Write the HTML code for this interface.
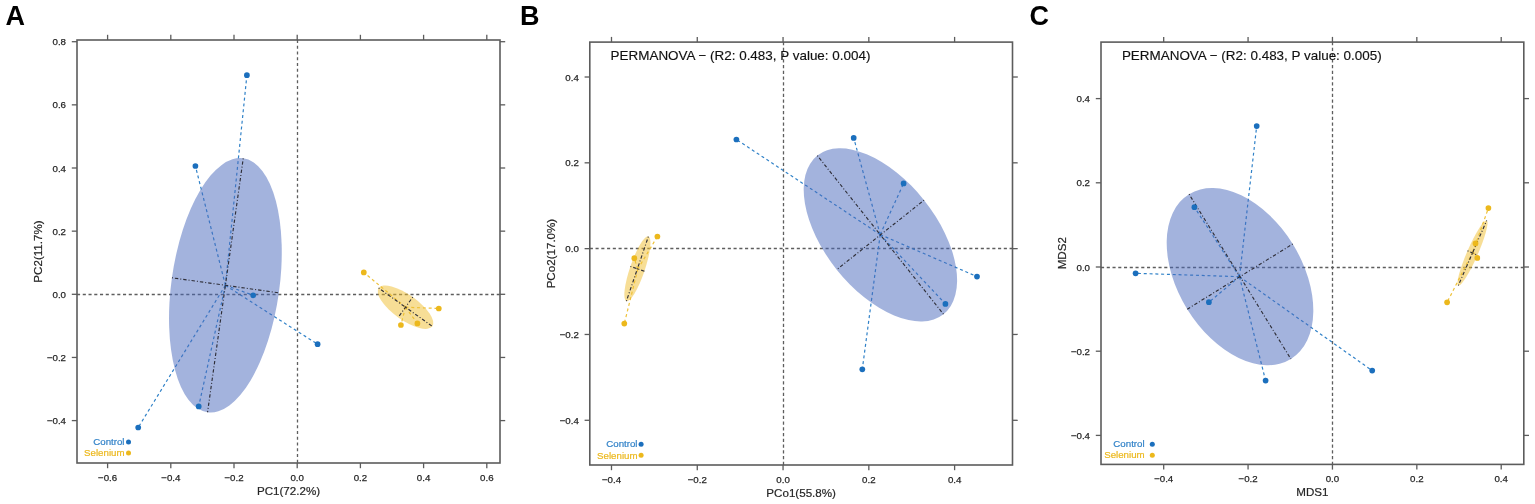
<!DOCTYPE html>
<html><head><meta charset="utf-8"><style>
html,body{margin:0;padding:0;background:#fff;}
svg{display:block;}
text{font-family:"Liberation Sans",Arial,sans-serif;}
.tk{font-size:9.7px;fill:#262626;stroke:#262626;stroke-width:0.25px;}
.at{font-size:11.6px;fill:#262626;stroke:#262626;stroke-width:0.2px;}
.lg{font-size:9.7px;stroke-width:0.2px;}
.pm{font-size:13.45px;fill:#111;stroke:#111;stroke-width:0.15px;}
.pl{font-size:27px;font-weight:bold;fill:#000;}
</style></head><body>
<svg width="1535" height="504" viewBox="0 0 1535 504">
<rect width="1535" height="504" fill="#fff"/>
<line x1="297.50" y1="40.00" x2="297.50" y2="463.00" stroke="#5e5e5e" stroke-width="1.3" stroke-dasharray="3.1,2.65"/>
<line x1="77.00" y1="294.50" x2="500.00" y2="294.50" stroke="#5e5e5e" stroke-width="1.3" stroke-dasharray="3.1,2.65"/>
<line x1="225.4" y1="285.3" x2="246.9" y2="75.2" stroke="#3182c8" stroke-width="1.2" stroke-dasharray="3,2.8"/>
<line x1="225.4" y1="285.3" x2="195.4" y2="166" stroke="#3182c8" stroke-width="1.2" stroke-dasharray="3,2.8"/>
<line x1="225.4" y1="285.3" x2="253.2" y2="295.3" stroke="#3182c8" stroke-width="1.2" stroke-dasharray="3,2.8"/>
<line x1="225.4" y1="285.3" x2="198.7" y2="406.4" stroke="#3182c8" stroke-width="1.2" stroke-dasharray="3,2.8"/>
<line x1="225.4" y1="285.3" x2="138.2" y2="427.5" stroke="#3182c8" stroke-width="1.2" stroke-dasharray="3,2.8"/>
<line x1="225.4" y1="285.3" x2="317.6" y2="344.2" stroke="#3182c8" stroke-width="1.2" stroke-dasharray="3,2.8"/>
<line x1="405.5" y1="307.2" x2="363.8" y2="272.4" stroke="#eec23a" stroke-width="1.2" stroke-dasharray="3,2.8"/>
<line x1="405.5" y1="307.2" x2="438.8" y2="308.5" stroke="#eec23a" stroke-width="1.2" stroke-dasharray="3,2.8"/>
<line x1="405.5" y1="307.2" x2="400.9" y2="325" stroke="#eec23a" stroke-width="1.2" stroke-dasharray="3,2.8"/>
<line x1="405.5" y1="307.2" x2="417.4" y2="323.4" stroke="#eec23a" stroke-width="1.2" stroke-dasharray="3,2.8"/>
<ellipse cx="225.4" cy="285.3" rx="54" ry="128.2" transform="rotate(8 225.4 285.3)" fill="#4768bb" fill-opacity="0.5"/>
<ellipse cx="405.5" cy="307.2" rx="33" ry="12.5" transform="rotate(35.5 405.5 307.2)" fill="#f0be2d" fill-opacity="0.5"/>
<line x1="171.93" y1="277.78" x2="278.87" y2="292.82" stroke="#2e2e38" stroke-width="1.15" stroke-dasharray="1,2,3.4,2"/>
<line x1="243.24" y1="158.35" x2="207.56" y2="412.25" stroke="#2e2e38" stroke-width="1.15" stroke-dasharray="1,2,3.4,2"/>
<line x1="378.63" y1="288.04" x2="432.37" y2="326.36" stroke="#2e2e38" stroke-width="1.15" stroke-dasharray="1,2,3.4,2"/>
<line x1="412.76" y1="297.02" x2="398.24" y2="317.38" stroke="#2e2e38" stroke-width="1.15" stroke-dasharray="1,2,3.4,2"/>
<circle cx="246.9" cy="75.2" r="2.85" fill="#1b6fbd"/>
<circle cx="195.4" cy="166" r="2.85" fill="#1b6fbd"/>
<circle cx="253.2" cy="295.3" r="2.85" fill="#1b6fbd"/>
<circle cx="198.7" cy="406.4" r="2.85" fill="#1b6fbd"/>
<circle cx="138.2" cy="427.5" r="2.85" fill="#1b6fbd"/>
<circle cx="317.6" cy="344.2" r="2.85" fill="#1b6fbd"/>
<circle cx="363.8" cy="272.4" r="2.85" fill="#ecb81c"/>
<circle cx="438.8" cy="308.5" r="2.85" fill="#ecb81c"/>
<circle cx="400.9" cy="325" r="2.85" fill="#ecb81c"/>
<circle cx="417.4" cy="323.4" r="2.85" fill="#ecb81c"/>
<rect x="77" y="40" width="423.00" height="423.00" fill="none" stroke="#5c5c5c" stroke-width="1.6"/>
<line x1="107.60" y1="463" x2="107.60" y2="468.2" stroke="#5c5c5c" stroke-width="1.3"/>
<line x1="107.60" y1="40" x2="107.60" y2="34.8" stroke="#5c5c5c" stroke-width="1.3"/>
<text x="107.60" y="480.80" text-anchor="middle" class="tk">−0.6</text>
<line x1="170.80" y1="463" x2="170.80" y2="468.2" stroke="#5c5c5c" stroke-width="1.3"/>
<line x1="170.80" y1="40" x2="170.80" y2="34.8" stroke="#5c5c5c" stroke-width="1.3"/>
<text x="170.80" y="480.80" text-anchor="middle" class="tk">−0.4</text>
<line x1="234.00" y1="463" x2="234.00" y2="468.2" stroke="#5c5c5c" stroke-width="1.3"/>
<line x1="234.00" y1="40" x2="234.00" y2="34.8" stroke="#5c5c5c" stroke-width="1.3"/>
<text x="234.00" y="480.80" text-anchor="middle" class="tk">−0.2</text>
<line x1="297.20" y1="463" x2="297.20" y2="468.2" stroke="#5c5c5c" stroke-width="1.3"/>
<line x1="297.20" y1="40" x2="297.20" y2="34.8" stroke="#5c5c5c" stroke-width="1.3"/>
<text x="297.20" y="480.80" text-anchor="middle" class="tk">0.0</text>
<line x1="360.40" y1="463" x2="360.40" y2="468.2" stroke="#5c5c5c" stroke-width="1.3"/>
<line x1="360.40" y1="40" x2="360.40" y2="34.8" stroke="#5c5c5c" stroke-width="1.3"/>
<text x="360.40" y="480.80" text-anchor="middle" class="tk">0.2</text>
<line x1="423.60" y1="463" x2="423.60" y2="468.2" stroke="#5c5c5c" stroke-width="1.3"/>
<line x1="423.60" y1="40" x2="423.60" y2="34.8" stroke="#5c5c5c" stroke-width="1.3"/>
<text x="423.60" y="480.80" text-anchor="middle" class="tk">0.4</text>
<line x1="486.80" y1="463" x2="486.80" y2="468.2" stroke="#5c5c5c" stroke-width="1.3"/>
<line x1="486.80" y1="40" x2="486.80" y2="34.8" stroke="#5c5c5c" stroke-width="1.3"/>
<text x="486.80" y="480.80" text-anchor="middle" class="tk">0.6</text>
<line x1="77" y1="420.60" x2="71.8" y2="420.60" stroke="#5c5c5c" stroke-width="1.3"/>
<line x1="500" y1="420.60" x2="505.2" y2="420.60" stroke="#5c5c5c" stroke-width="1.3"/>
<text x="66.00" y="424.20" text-anchor="end" class="tk">−0.4</text>
<line x1="77" y1="357.45" x2="71.8" y2="357.45" stroke="#5c5c5c" stroke-width="1.3"/>
<line x1="500" y1="357.45" x2="505.2" y2="357.45" stroke="#5c5c5c" stroke-width="1.3"/>
<text x="66.00" y="361.05" text-anchor="end" class="tk">−0.2</text>
<line x1="77" y1="294.30" x2="71.8" y2="294.30" stroke="#5c5c5c" stroke-width="1.3"/>
<line x1="500" y1="294.30" x2="505.2" y2="294.30" stroke="#5c5c5c" stroke-width="1.3"/>
<text x="66.00" y="297.90" text-anchor="end" class="tk">0.0</text>
<line x1="77" y1="231.15" x2="71.8" y2="231.15" stroke="#5c5c5c" stroke-width="1.3"/>
<line x1="500" y1="231.15" x2="505.2" y2="231.15" stroke="#5c5c5c" stroke-width="1.3"/>
<text x="66.00" y="234.75" text-anchor="end" class="tk">0.2</text>
<line x1="77" y1="168.00" x2="71.8" y2="168.00" stroke="#5c5c5c" stroke-width="1.3"/>
<line x1="500" y1="168.00" x2="505.2" y2="168.00" stroke="#5c5c5c" stroke-width="1.3"/>
<text x="66.00" y="171.60" text-anchor="end" class="tk">0.4</text>
<line x1="77" y1="104.85" x2="71.8" y2="104.85" stroke="#5c5c5c" stroke-width="1.3"/>
<line x1="500" y1="104.85" x2="505.2" y2="104.85" stroke="#5c5c5c" stroke-width="1.3"/>
<text x="66.00" y="108.45" text-anchor="end" class="tk">0.6</text>
<line x1="77" y1="41.70" x2="71.8" y2="41.70" stroke="#5c5c5c" stroke-width="1.3"/>
<line x1="500" y1="41.70" x2="505.2" y2="41.70" stroke="#5c5c5c" stroke-width="1.3"/>
<text x="66.00" y="45.30" text-anchor="end" class="tk">0.8</text>
<text x="288.50" y="495.00" text-anchor="middle" class="at">PC1(72.2%)</text>
<text x="42.00" y="251.50" text-anchor="middle" class="at" transform="rotate(-90 42.00 251.50)">PC2(11.7%)</text>
<circle cx="128.5" cy="442" r="2.5" fill="#1b6fbd"/>
<circle cx="128.5" cy="453" r="2.5" fill="#ecb81c"/>
<text x="124.5" y="445.20" text-anchor="end" class="lg" fill="#3182c8" stroke="#3182c8">Control</text>
<text x="124.5" y="456.20" text-anchor="end" class="lg" fill="#ecb81c" stroke="#ecb81c">Selenium</text>
<text x="5.5" y="25" class="pl">A</text>
<line x1="783.50" y1="42.10" x2="783.50" y2="465.00" stroke="#5e5e5e" stroke-width="1.3" stroke-dasharray="3.1,2.65"/>
<line x1="589.80" y1="248.50" x2="1012.50" y2="248.50" stroke="#5e5e5e" stroke-width="1.3" stroke-dasharray="3.1,2.65"/>
<line x1="880.2" y1="234.6" x2="736.4" y2="139.5" stroke="#3182c8" stroke-width="1.2" stroke-dasharray="3,2.8"/>
<line x1="880.2" y1="234.6" x2="853.7" y2="137.9" stroke="#3182c8" stroke-width="1.2" stroke-dasharray="3,2.8"/>
<line x1="880.2" y1="234.6" x2="903.6" y2="183.4" stroke="#3182c8" stroke-width="1.2" stroke-dasharray="3,2.8"/>
<line x1="880.2" y1="234.6" x2="977" y2="276.6" stroke="#3182c8" stroke-width="1.2" stroke-dasharray="3,2.8"/>
<line x1="880.2" y1="234.6" x2="945.4" y2="303.9" stroke="#3182c8" stroke-width="1.2" stroke-dasharray="3,2.8"/>
<line x1="880.2" y1="234.6" x2="862.3" y2="369.3" stroke="#3182c8" stroke-width="1.2" stroke-dasharray="3,2.8"/>
<line x1="637.8" y1="269.1" x2="657.4" y2="236.5" stroke="#eec23a" stroke-width="1.2" stroke-dasharray="3,2.8"/>
<line x1="637.8" y1="269.1" x2="634.3" y2="258.2" stroke="#eec23a" stroke-width="1.2" stroke-dasharray="3,2.8"/>
<line x1="637.8" y1="269.1" x2="624.3" y2="323.6" stroke="#eec23a" stroke-width="1.2" stroke-dasharray="3,2.8"/>
<ellipse cx="880.4" cy="234.9" rx="101.3" ry="55.8" transform="rotate(51.5 880.4 234.9)" fill="#4768bb" fill-opacity="0.5"/>
<ellipse cx="637.4" cy="268.8" rx="34.2" ry="7.4" transform="rotate(-71.2 637.4 268.8)" fill="#f0be2d" fill-opacity="0.5"/>
<line x1="817.34" y1="155.62" x2="943.46" y2="314.18" stroke="#2e2e38" stroke-width="1.15" stroke-dasharray="1,2,3.4,2"/>
<line x1="924.07" y1="200.16" x2="836.73" y2="269.64" stroke="#2e2e38" stroke-width="1.15" stroke-dasharray="1,2,3.4,2"/>
<line x1="626.38" y1="301.18" x2="648.42" y2="236.42" stroke="#2e2e38" stroke-width="1.15" stroke-dasharray="1,2,3.4,2"/>
<line x1="630.39" y1="266.42" x2="644.41" y2="271.18" stroke="#2e2e38" stroke-width="1.15" stroke-dasharray="1,2,3.4,2"/>
<circle cx="736.4" cy="139.5" r="2.85" fill="#1b6fbd"/>
<circle cx="853.7" cy="137.9" r="2.85" fill="#1b6fbd"/>
<circle cx="903.6" cy="183.4" r="2.85" fill="#1b6fbd"/>
<circle cx="977" cy="276.6" r="2.85" fill="#1b6fbd"/>
<circle cx="945.4" cy="303.9" r="2.85" fill="#1b6fbd"/>
<circle cx="862.3" cy="369.3" r="2.85" fill="#1b6fbd"/>
<circle cx="657.4" cy="236.5" r="2.85" fill="#ecb81c"/>
<circle cx="634.3" cy="258.2" r="2.85" fill="#ecb81c"/>
<circle cx="624.3" cy="323.6" r="2.85" fill="#ecb81c"/>
<rect x="589.8" y="42.1" width="422.70" height="422.90" fill="none" stroke="#5c5c5c" stroke-width="1.6"/>
<line x1="611.49" y1="465" x2="611.49" y2="470.2" stroke="#5c5c5c" stroke-width="1.3"/>
<line x1="611.49" y1="42.1" x2="611.49" y2="36.9" stroke="#5c5c5c" stroke-width="1.3"/>
<text x="611.49" y="482.80" text-anchor="middle" class="tk">−0.4</text>
<line x1="697.27" y1="465" x2="697.27" y2="470.2" stroke="#5c5c5c" stroke-width="1.3"/>
<line x1="697.27" y1="42.1" x2="697.27" y2="36.9" stroke="#5c5c5c" stroke-width="1.3"/>
<text x="697.27" y="482.80" text-anchor="middle" class="tk">−0.2</text>
<line x1="783.05" y1="465" x2="783.05" y2="470.2" stroke="#5c5c5c" stroke-width="1.3"/>
<line x1="783.05" y1="42.1" x2="783.05" y2="36.9" stroke="#5c5c5c" stroke-width="1.3"/>
<text x="783.05" y="482.80" text-anchor="middle" class="tk">0.0</text>
<line x1="868.83" y1="465" x2="868.83" y2="470.2" stroke="#5c5c5c" stroke-width="1.3"/>
<line x1="868.83" y1="42.1" x2="868.83" y2="36.9" stroke="#5c5c5c" stroke-width="1.3"/>
<text x="868.83" y="482.80" text-anchor="middle" class="tk">0.2</text>
<line x1="954.61" y1="465" x2="954.61" y2="470.2" stroke="#5c5c5c" stroke-width="1.3"/>
<line x1="954.61" y1="42.1" x2="954.61" y2="36.9" stroke="#5c5c5c" stroke-width="1.3"/>
<text x="954.61" y="482.80" text-anchor="middle" class="tk">0.4</text>
<line x1="589.8" y1="420.29" x2="584.5999999999999" y2="420.29" stroke="#5c5c5c" stroke-width="1.3"/>
<line x1="1012.5" y1="420.29" x2="1017.7" y2="420.29" stroke="#5c5c5c" stroke-width="1.3"/>
<text x="578.80" y="423.89" text-anchor="end" class="tk">−0.4</text>
<line x1="589.8" y1="334.47" x2="584.5999999999999" y2="334.47" stroke="#5c5c5c" stroke-width="1.3"/>
<line x1="1012.5" y1="334.47" x2="1017.7" y2="334.47" stroke="#5c5c5c" stroke-width="1.3"/>
<text x="578.80" y="338.07" text-anchor="end" class="tk">−0.2</text>
<line x1="589.8" y1="248.65" x2="584.5999999999999" y2="248.65" stroke="#5c5c5c" stroke-width="1.3"/>
<line x1="1012.5" y1="248.65" x2="1017.7" y2="248.65" stroke="#5c5c5c" stroke-width="1.3"/>
<text x="578.80" y="252.25" text-anchor="end" class="tk">0.0</text>
<line x1="589.8" y1="162.83" x2="584.5999999999999" y2="162.83" stroke="#5c5c5c" stroke-width="1.3"/>
<line x1="1012.5" y1="162.83" x2="1017.7" y2="162.83" stroke="#5c5c5c" stroke-width="1.3"/>
<text x="578.80" y="166.43" text-anchor="end" class="tk">0.2</text>
<line x1="589.8" y1="77.01" x2="584.5999999999999" y2="77.01" stroke="#5c5c5c" stroke-width="1.3"/>
<line x1="1012.5" y1="77.01" x2="1017.7" y2="77.01" stroke="#5c5c5c" stroke-width="1.3"/>
<text x="578.80" y="80.61" text-anchor="end" class="tk">0.4</text>
<text x="801.15" y="497.00" text-anchor="middle" class="at">PCo1(55.8%)</text>
<text x="554.80" y="253.55" text-anchor="middle" class="at" transform="rotate(-90 554.80 253.55)">PCo2(17.0%)</text>
<circle cx="641.1" cy="444.2" r="2.5" fill="#1b6fbd"/>
<circle cx="641.1" cy="455.3" r="2.5" fill="#ecb81c"/>
<text x="637.5" y="447.40" text-anchor="end" class="lg" fill="#3182c8" stroke="#3182c8">Control</text>
<text x="637.5" y="458.50" text-anchor="end" class="lg" fill="#ecb81c" stroke="#ecb81c">Selenium</text>
<text x="610.6" y="60.1" class="pm">PERMANOVA − (R2: 0.483, P value: 0.004)</text>
<text x="520" y="25" class="pl">B</text>
<line x1="1332.50" y1="42.10" x2="1332.50" y2="464.40" stroke="#5e5e5e" stroke-width="1.3" stroke-dasharray="3.1,2.65"/>
<line x1="1101.00" y1="267.50" x2="1523.80" y2="267.50" stroke="#5e5e5e" stroke-width="1.3" stroke-dasharray="3.1,2.65"/>
<line x1="1239.5" y1="276.7" x2="1256.7" y2="126.1" stroke="#3182c8" stroke-width="1.2" stroke-dasharray="3,2.8"/>
<line x1="1239.5" y1="276.7" x2="1194.4" y2="207.2" stroke="#3182c8" stroke-width="1.2" stroke-dasharray="3,2.8"/>
<line x1="1239.5" y1="276.7" x2="1135.6" y2="273.3" stroke="#3182c8" stroke-width="1.2" stroke-dasharray="3,2.8"/>
<line x1="1239.5" y1="276.7" x2="1208.9" y2="302.2" stroke="#3182c8" stroke-width="1.2" stroke-dasharray="3,2.8"/>
<line x1="1239.5" y1="276.7" x2="1265.6" y2="380.6" stroke="#3182c8" stroke-width="1.2" stroke-dasharray="3,2.8"/>
<line x1="1239.5" y1="276.7" x2="1372.2" y2="370.6" stroke="#3182c8" stroke-width="1.2" stroke-dasharray="3,2.8"/>
<line x1="1472.9" y1="251.9" x2="1488.4" y2="208.1" stroke="#eec23a" stroke-width="1.2" stroke-dasharray="3,2.8"/>
<line x1="1472.9" y1="251.9" x2="1475.5" y2="243.4" stroke="#eec23a" stroke-width="1.2" stroke-dasharray="3,2.8"/>
<line x1="1472.9" y1="251.9" x2="1477.3" y2="257.9" stroke="#eec23a" stroke-width="1.2" stroke-dasharray="3,2.8"/>
<line x1="1472.9" y1="251.9" x2="1447.1" y2="302.3" stroke="#eec23a" stroke-width="1.2" stroke-dasharray="3,2.8"/>
<ellipse cx="1240" cy="276.6" rx="96.9" ry="62" transform="rotate(58.3 1240 276.6)" fill="#4768bb" fill-opacity="0.5"/>
<ellipse cx="1472.5" cy="253" rx="35.5" ry="5.4" transform="rotate(-66.4 1472.5 253)" fill="#f0be2d" fill-opacity="0.5"/>
<line x1="1189.08" y1="194.16" x2="1290.92" y2="359.04" stroke="#2e2e38" stroke-width="1.15" stroke-dasharray="1,2,3.4,2"/>
<line x1="1292.75" y1="244.02" x2="1187.25" y2="309.18" stroke="#2e2e38" stroke-width="1.15" stroke-dasharray="1,2,3.4,2"/>
<line x1="1458.29" y1="285.53" x2="1486.71" y2="220.47" stroke="#2e2e38" stroke-width="1.15" stroke-dasharray="1,2,3.4,2"/>
<line x1="1467.55" y1="250.84" x2="1477.45" y2="255.16" stroke="#2e2e38" stroke-width="1.15" stroke-dasharray="1,2,3.4,2"/>
<circle cx="1256.7" cy="126.1" r="2.85" fill="#1b6fbd"/>
<circle cx="1194.4" cy="207.2" r="2.85" fill="#1b6fbd"/>
<circle cx="1135.6" cy="273.3" r="2.85" fill="#1b6fbd"/>
<circle cx="1208.9" cy="302.2" r="2.85" fill="#1b6fbd"/>
<circle cx="1265.6" cy="380.6" r="2.85" fill="#1b6fbd"/>
<circle cx="1372.2" cy="370.6" r="2.85" fill="#1b6fbd"/>
<circle cx="1488.4" cy="208.1" r="2.85" fill="#ecb81c"/>
<circle cx="1475.5" cy="243.4" r="2.85" fill="#ecb81c"/>
<circle cx="1477.3" cy="257.9" r="2.85" fill="#ecb81c"/>
<circle cx="1447.1" cy="302.3" r="2.85" fill="#ecb81c"/>
<rect x="1101" y="42.1" width="422.80" height="422.30" fill="none" stroke="#5c5c5c" stroke-width="1.6"/>
<line x1="1163.69" y1="464.4" x2="1163.69" y2="469.59999999999997" stroke="#5c5c5c" stroke-width="1.3"/>
<line x1="1163.69" y1="42.1" x2="1163.69" y2="36.9" stroke="#5c5c5c" stroke-width="1.3"/>
<text x="1163.69" y="482.20" text-anchor="middle" class="tk">−0.4</text>
<line x1="1248.07" y1="464.4" x2="1248.07" y2="469.59999999999997" stroke="#5c5c5c" stroke-width="1.3"/>
<line x1="1248.07" y1="42.1" x2="1248.07" y2="36.9" stroke="#5c5c5c" stroke-width="1.3"/>
<text x="1248.07" y="482.20" text-anchor="middle" class="tk">−0.2</text>
<line x1="1332.45" y1="464.4" x2="1332.45" y2="469.59999999999997" stroke="#5c5c5c" stroke-width="1.3"/>
<line x1="1332.45" y1="42.1" x2="1332.45" y2="36.9" stroke="#5c5c5c" stroke-width="1.3"/>
<text x="1332.45" y="482.20" text-anchor="middle" class="tk">0.0</text>
<line x1="1416.83" y1="464.4" x2="1416.83" y2="469.59999999999997" stroke="#5c5c5c" stroke-width="1.3"/>
<line x1="1416.83" y1="42.1" x2="1416.83" y2="36.9" stroke="#5c5c5c" stroke-width="1.3"/>
<text x="1416.83" y="482.20" text-anchor="middle" class="tk">0.2</text>
<line x1="1501.21" y1="464.4" x2="1501.21" y2="469.59999999999997" stroke="#5c5c5c" stroke-width="1.3"/>
<line x1="1501.21" y1="42.1" x2="1501.21" y2="36.9" stroke="#5c5c5c" stroke-width="1.3"/>
<text x="1501.21" y="482.20" text-anchor="middle" class="tk">0.4</text>
<line x1="1101" y1="435.40" x2="1095.8" y2="435.40" stroke="#5c5c5c" stroke-width="1.3"/>
<line x1="1523.8" y1="435.40" x2="1529.0" y2="435.40" stroke="#5c5c5c" stroke-width="1.3"/>
<text x="1090.00" y="439.00" text-anchor="end" class="tk">−0.4</text>
<line x1="1101" y1="351.20" x2="1095.8" y2="351.20" stroke="#5c5c5c" stroke-width="1.3"/>
<line x1="1523.8" y1="351.20" x2="1529.0" y2="351.20" stroke="#5c5c5c" stroke-width="1.3"/>
<text x="1090.00" y="354.80" text-anchor="end" class="tk">−0.2</text>
<line x1="1101" y1="267.00" x2="1095.8" y2="267.00" stroke="#5c5c5c" stroke-width="1.3"/>
<line x1="1523.8" y1="267.00" x2="1529.0" y2="267.00" stroke="#5c5c5c" stroke-width="1.3"/>
<text x="1090.00" y="270.60" text-anchor="end" class="tk">0.0</text>
<line x1="1101" y1="182.80" x2="1095.8" y2="182.80" stroke="#5c5c5c" stroke-width="1.3"/>
<line x1="1523.8" y1="182.80" x2="1529.0" y2="182.80" stroke="#5c5c5c" stroke-width="1.3"/>
<text x="1090.00" y="186.40" text-anchor="end" class="tk">0.2</text>
<line x1="1101" y1="98.60" x2="1095.8" y2="98.60" stroke="#5c5c5c" stroke-width="1.3"/>
<line x1="1523.8" y1="98.60" x2="1529.0" y2="98.60" stroke="#5c5c5c" stroke-width="1.3"/>
<text x="1090.00" y="102.20" text-anchor="end" class="tk">0.4</text>
<text x="1312.40" y="496.40" text-anchor="middle" class="at">MDS1</text>
<text x="1066.00" y="253.25" text-anchor="middle" class="at" transform="rotate(-90 1066.00 253.25)">MDS2</text>
<circle cx="1152.3" cy="444.2" r="2.5" fill="#1b6fbd"/>
<circle cx="1152.3" cy="455.2" r="2.5" fill="#ecb81c"/>
<text x="1144.6" y="447.40" text-anchor="end" class="lg" fill="#3182c8" stroke="#3182c8">Control</text>
<text x="1144.6" y="458.40" text-anchor="end" class="lg" fill="#ecb81c" stroke="#ecb81c">Selenium</text>
<text x="1121.9" y="60.2" class="pm">PERMANOVA − (R2: 0.483, P value: 0.005)</text>
<text x="1029.5" y="25" class="pl">C</text>
</svg>
</body></html>
